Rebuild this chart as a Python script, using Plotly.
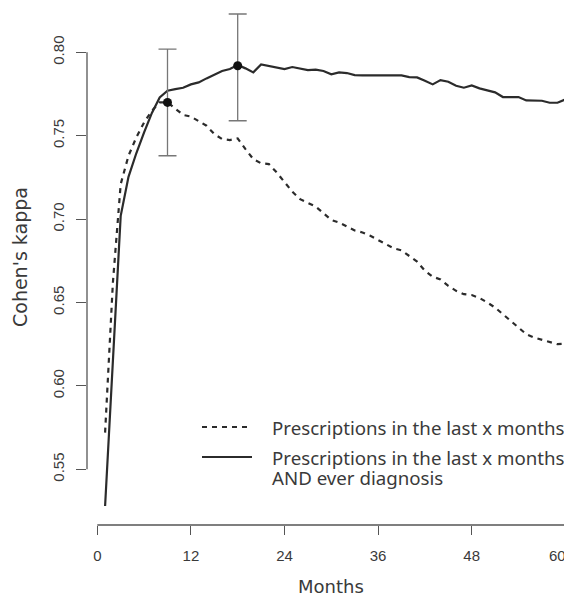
import plotly.graph_objects as go

months = list(range(1, 61))

prescriptions_only = [
    0.572, 0.662, 0.721, 0.738, 0.749, 0.758, 0.765, 0.770, 0.770, 0.766,
    0.7625, 0.7615, 0.759, 0.756, 0.751, 0.748, 0.7474, 0.7484, 0.742, 0.736,
    0.7335, 0.733, 0.728, 0.722, 0.7165, 0.712, 0.7095, 0.7075, 0.7035, 0.6995,
    0.698, 0.6955, 0.6932, 0.692, 0.690, 0.6875, 0.685, 0.6825, 0.6813, 0.678,
    0.6745, 0.6691, 0.6655, 0.6638, 0.660, 0.657, 0.655, 0.6545, 0.6527, 0.650,
    0.647, 0.643, 0.639, 0.6345, 0.631, 0.629, 0.6277, 0.626, 0.625, 0.6253,
]

prescriptions_and_diagnosis = [
    0.528, 0.617, 0.702, 0.7254, 0.7395, 0.752, 0.7637, 0.773, 0.777, 0.778,
    0.7788, 0.7808, 0.782, 0.7844, 0.7868, 0.7888, 0.790, 0.7924, 0.7904, 0.788,
    0.7928, 0.7918, 0.7908, 0.790, 0.7912, 0.7904, 0.7894, 0.7896, 0.7888, 0.7868,
    0.788, 0.7876, 0.7864, 0.7862, 0.7862, 0.7862, 0.7862, 0.7862, 0.7862, 0.7852,
    0.785, 0.783, 0.7808, 0.7834, 0.7824, 0.780, 0.7788, 0.7802, 0.7784, 0.7772,
    0.776, 0.7732, 0.7732, 0.7732, 0.7712, 0.771, 0.771, 0.7698, 0.7698, 0.7718,
]

# highlighted points with 95% CI
ci_months = [9, 18]
ci_values = [0.770, 0.792]
ci_upper = [0.802, 0.823]
ci_lower = [0.738, 0.759]

x_ticks = [0, 12, 24, 36, 48, 60]
y_ticks = [0.55, 0.60, 0.65, 0.70, 0.75, 0.80]

legend_labels = [
    "Prescriptions in the last x months",
    "Prescriptions in the last x months",
    "AND ever diagnosis",
]

OFF = 8  # page body margin
W, H = 572 - OFF, 597 - OFF
L, R, T, B = 87 - OFF, 572 - OFF, 0, 525 - OFF  # plot area in figure pixels


def px_x(p):  # page pixel -> paper
    return (p - OFF - L) / (R - L)


def px_y(p):
    return (B - (p - OFF)) / (B - T)


LINE = "#2b2b2b"
AXIS = "#555555"
TXT = "#3a3a3a"

fig = go.Figure()

fig.add_trace(go.Scatter(
    x=months, y=prescriptions_only, mode="lines",
    line=dict(color=LINE, width=2.2, dash="5px,5px"),
    showlegend=False, hoverinfo="skip",
))
fig.add_trace(go.Scatter(
    x=months, y=prescriptions_and_diagnosis, mode="lines",
    line=dict(color=LINE, width=2.2),
    showlegend=False, hoverinfo="skip",
))
fig.add_trace(go.Scatter(
    x=ci_months, y=ci_values, mode="markers",
    marker=dict(color="#111111", size=9),
    error_y=dict(
        type="data", symmetric=False,
        array=[u - v for u, v in zip(ci_upper, ci_values)],
        arrayminus=[v - l for l, v in zip(ci_lower, ci_values)],
        color="#777777", thickness=1.3, width=9,
    ),
    showlegend=False, hoverinfo="skip",
))

# axis lines drawn like base R (only spanning the ticks)
fig.add_shape(type="line", xref="x", yref="paper", x0=x_ticks[0], x1=x_ticks[-1],
              y0=0, y1=0, line=dict(color=AXIS, width=1.3))
fig.add_shape(type="line", xref="paper", yref="y", x0=0, x1=0,
              y0=y_ticks[0], y1=y_ticks[-1], line=dict(color=AXIS, width=1.3))

# legend (manual)
fig.add_shape(type="line", xref="paper", yref="paper",
              x0=px_x(202), x1=px_x(252), y0=px_y(427), y1=px_y(427),
              line=dict(color=LINE, width=2.2, dash="5px,5px"))
fig.add_shape(type="line", xref="paper", yref="paper",
              x0=px_x(202), x1=px_x(252), y0=px_y(457), y1=px_y(457),
              line=dict(color=LINE, width=2.2))
for txt, yy in zip(legend_labels, [427, 457, 477]):
    fig.add_annotation(text=txt, xref="paper", yref="paper",
                       x=px_x(271), y=px_y(yy), xanchor="left", yanchor="middle",
                       showarrow=False, borderpad=0,
                       font=dict(family="Noto Sans", size=18.7, color=TXT))

# last x tick label, nudged inside the page edge as in the reference
fig.add_annotation(text=str(x_ticks[-1]), xref="paper", yref="paper",
                   x=px_x(557), y=px_y(555), xanchor="center", yanchor="middle",
                   showarrow=False,
                   font=dict(family="Liberation Sans", size=15, color=TXT))

# axis titles
fig.add_annotation(text="Months", xref="paper", yref="paper",
                   x=px_x(331), y=px_y(586), xanchor="center", yanchor="middle",
                   showarrow=False, font=dict(family="DejaVu Sans", size=18, color=TXT))
fig.add_annotation(text="Cohen's kappa", xref="paper", yref="paper",
                   x=px_x(20), y=px_y(257), xanchor="center", yanchor="middle",
                   textangle=-90, showarrow=False,
                   font=dict(family="DejaVu Sans", size=19, color=TXT))

fig.update_layout(
    width=W, height=H,
    margin=dict(l=L, r=W - R, t=T, b=H - B, autoexpand=False),
    paper_bgcolor="white", plot_bgcolor="white",
    font=dict(family="Liberation Sans", color=TXT),
)
fig.update_xaxes(
    range=[-1.32, 60.86], tickvals=x_ticks,
    ticktext=[str(v) for v in x_ticks[:-1]] + [""],
    showgrid=False, zeroline=False, showline=False, automargin=False,
    ticks="outside", ticklen=9, tickwidth=1.3, tickcolor=AXIS,
    tickfont=dict(family="Liberation Sans", size=15, color=TXT),
    ticklabelstandoff=8, ticklabeloverflow="allow",
)
fig.update_yaxes(
    range=[0.5166, 0.8266], tickvals=y_ticks, tickformat=".2f",
    showgrid=False, zeroline=False, showline=False, automargin=False,
    ticks="outside", ticklen=10, tickwidth=1.3, tickcolor=AXIS,
    tickangle=-90,
    tickfont=dict(family="Liberation Sans", size=15, color=TXT),
    ticklabelstandoff=6, ticklabeloverflow="allow",
)

fig.write_html("out.html")
